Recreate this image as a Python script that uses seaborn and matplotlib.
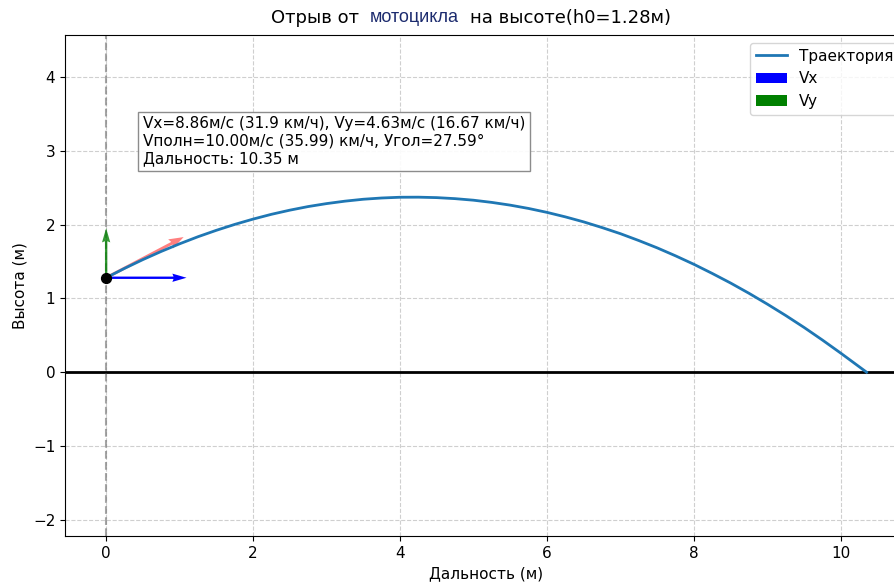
import numpy as np
import pandas as pd
import matplotlib.pyplot as plt
import seaborn as sns

# Траектория
dist = [0, 0.25, 0.5, 0.75, 1.0, 1.25, 1.5, 1.75, 2.0, 2.25, 2.5, 2.75, 3.0, 3.25,
        3.5, 3.75, 4.0, 4.25, 4.5, 4.75, 5.0, 5.25, 5.5, 5.75, 6.0, 6.25, 6.5,
        6.75, 7.0, 7.25, 7.5, 7.75, 8.0, 8.25, 8.5, 8.75, 9.0, 9.25, 9.5, 9.75,
        10.0, 10.35]
height = [1.280, 1.407, 1.526, 1.637, 1.740, 1.836, 1.923, 2.003, 2.075, 2.140,
          2.196, 2.245, 2.285, 2.318, 2.344, 2.361, 2.371, 2.372, 2.366, 2.352,
          2.331, 2.301, 2.264, 2.219, 2.166, 2.105, 2.037, 1.960, 1.877, 1.784,
          1.685, 1.577, 1.462, 1.338, 1.208, 1.069, 0.922, 0.768, 0.606, 0.435,
          0.257, 0.0]

h0 = 1.28
vx, vy = 8.86, 4.63
info = ("Vx=8.86м/с (31.9 км/ч), Vy=4.63м/с (16.67 км/ч)\n"
        "Vполн=10.00м/с (35.99) км/ч, Угол=27.59°\n"
        "Дальность: 10.35 м")

df = pd.DataFrame({"x": dist, "y": height})

plt.rcParams["font.size"] = 11

fig = plt.figure(figsize=(8.94, 5.85), dpi=100)
ax = fig.add_axes([65 / 894, 49 / 585, 842 / 894, 501 / 585])

sns.lineplot(data=df, x="x", y="y", ax=ax, sort=False, color="#1f77b4",
             linewidth=2, label="Траектория", zorder=3)

ax.axhline(0, color="black", linewidth=2)
ax.axvline(0, color="gray", linestyle="--", alpha=0.7)

# Векторы скорости
ax.quiver(0, h0, vx, 0, angles="xy", scale_units="xy", scale=8.1, color="blue",
          width=0.0028, headwidth=3.5, headlength=6, headaxislength=5.5,
          label="Vx", zorder=4)
ax.quiver(0, h0, 0, vy, angles="xy", scale_units="xy", scale=6.9, color="green",
          alpha=0.8, width=0.0028, headwidth=3.5, headlength=6, headaxislength=5.5,
          label="Vy", zorder=4)
ax.quiver(0, h0, vx, vy, angles="xy", scale_units="xy", scale=8.4, color="red",
          alpha=0.5, width=0.0035, headwidth=3.5, headlength=5, headaxislength=4.5,
          zorder=2)
ax.scatter([0], [h0], color="black", s=50, zorder=5)

ax.text(0.5, 3.13, info, va="center", ha="left",
        bbox=dict(boxstyle="square,pad=0.3", facecolor="white", edgecolor="gray", alpha=0.9))

ax.set_xlim(-0.56, 10.9)
ax.set_ylim(-2.22, 4.57)
ax.set_xticks([0, 2, 4, 6, 8, 10])
ax.set_yticks([-2, -1, 0, 1, 2, 3, 4])
ax.grid(True, linestyle="--", alpha=0.6)
ax.set_xlabel("Дальность (м)")
ax.set_ylabel("Высота (м)")
leg = ax.legend(loc="upper right")
for h in leg.legend_handles[1:]:
    h.set_alpha(1)

# Заголовок
ty = 1 - 18 / 585
fig.text(359 / 894, ty, "Отрыв от", fontsize=13, ha="right", va="center")
fig.text(370 / 894, ty, "мотоцикла", fontsize=13, ha="left", va="center",
         color="#1c2b6e", family="Liberation Sans")
fig.text(470 / 894, ty, "на высоте(h0=1.28м)", fontsize=13, ha="left", va="center")

plt.savefig("out.png", dpi=100)
